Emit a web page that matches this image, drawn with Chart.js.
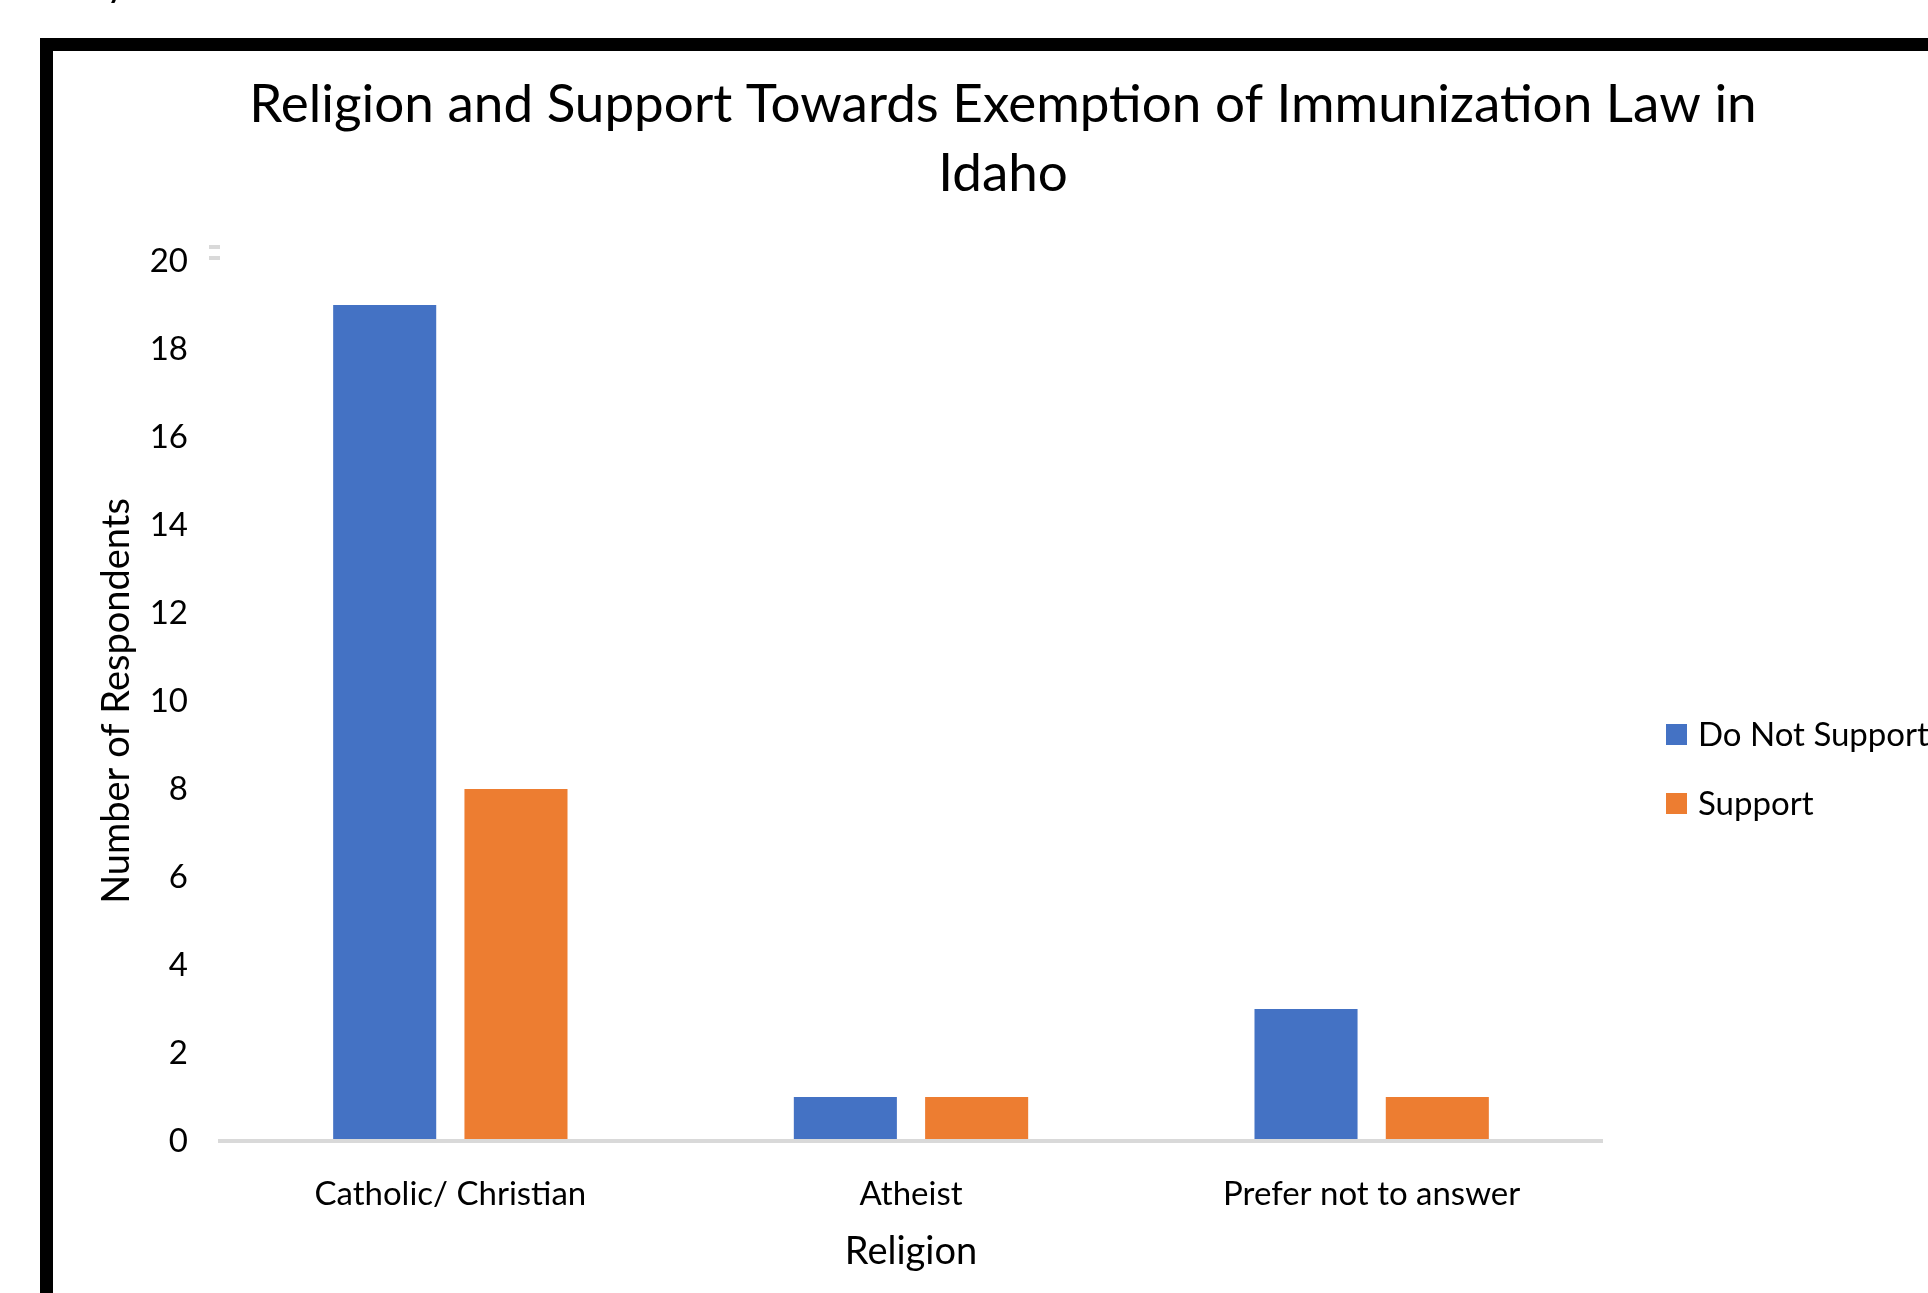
<!DOCTYPE html>
<html>
<head>
<meta charset="utf-8">
<title>Religion and Support Towards Exemption of Immunization Law in Idaho</title>
<script src="https://cdn.jsdelivr.net/npm/chart.js@4/dist/chart.umd.min.js"></script>
<style>
  html, body { margin: 0; padding: 0; background: #fff; overflow: hidden; }
  #wrap { position: relative; width: 1928px; height: 1293px; }
  canvas { display: block; }
</style>
</head>
<body>
<div id="wrap"><canvas id="chart" width="1928" height="1293"></canvas></div>
<script>
// ---- data ----
const titleLines = ['Religion and Support Towards Exemption of Immunization Law in', 'Idaho'];
const religions = ['Catholic/ Christian', 'Atheist', 'Prefer not to answer'];
const seriesNames = ['Do Not Support', 'Support'];
const doNotSupport = [19, 1, 3];
const support = [8, 1, 1];
const yTickValues = [0, 2, 4, 6, 8, 10, 12, 14, 16, 18, 20];
const xAxisTitle = 'Religion';
const yAxisTitle = 'Number of Respondents';

// ---- styling ----
const FONT = 'Lato, "Open Sans", sans-serif';
const BLUE = '#4472C4';
const ORANGE = '#ED7D31';
const AXIS_GREY = '#D9D9D9';

// Page frame, heading, legend and small decorations around the plot
const decorations = {
  id: 'decorations',
  beforeDraw(chart) {
    const ctx = chart.ctx;
    ctx.save();
    ctx.fillStyle = '#fff';
    ctx.fillRect(0, 0, chart.width, chart.height);
    ctx.restore();
  },
  afterDraw(chart) {
    const ctx = chart.ctx;
    const area = chart.chartArea;
    const yScale = chart.scales.y;
    ctx.save();

    // tail of a letter from the line of text above the frame
    ctx.fillStyle = '#000';
    ctx.font = '40px ' + FONT;
    ctx.textAlign = 'left';
    ctx.textBaseline = 'alphabetic';
    ctx.fillText('y', 106, -4);

    // thick black frame (left and top edges)
    ctx.fillRect(40, 38, 13, chart.height - 38);
    ctx.fillRect(40, 38, chart.width - 40, 13);

    // heading
    ctx.fillStyle = '#000';
    ctx.font = '53px ' + FONT;
    ctx.textAlign = 'center';
    ctx.textBaseline = 'alphabetic';
    ctx.fillText(titleLines[0], 1003, 122);
    ctx.fillText(titleLines[1], 1003, 191);

    // small grey handle next to the top of the value axis
    const yTop = yScale.getPixelForValue(yScale.max);
    ctx.fillStyle = AXIS_GREY;
    ctx.fillRect(area.left - 11, yTop - 16, 11, 4);
    ctx.fillRect(area.left - 11, yTop - 5, 11, 4);

    // legend
    ctx.font = '33px ' + FONT;
    ctx.textAlign = 'left';
    ctx.textBaseline = 'middle';
    chart.data.datasets.forEach((ds, i) => {
      const top = 724 + i * 69;
      ctx.fillStyle = ds.backgroundColor;
      ctx.fillRect(area.right + 64, top, 21, 21);
      ctx.fillStyle = '#000';
      ctx.fillText(ds.label, area.right + 96, top + 11);
    });
    ctx.restore();
  }
};

new Chart(document.getElementById('chart'), {
  type: 'bar',
  data: {
    labels: religions,
    datasets: [
      { label: seriesNames[0], data: doNotSupport, backgroundColor: BLUE },
      { label: seriesNames[1], data: support, backgroundColor: ORANGE }
    ]
  },
  options: {
    responsive: false,
    animation: false,
    devicePixelRatio: 1,
    layout: { padding: { left: 60, right: 326, top: 261, bottom: 0 } },
    datasets: {
      bar: { categoryPercentage: 0.57, barPercentage: 0.785, borderWidth: 0 }
    },
    plugins: {
      legend: { display: false },
      title: { display: false },
      tooltip: { enabled: false }
    },
    scales: {
      x: {
        grid: { display: false, drawTicks: false },
        border: { display: true, color: AXIS_GREY, width: 4, z: 1 },
        ticks: {
          color: '#000',
          font: { family: FONT, size: 33 },
          padding: 34,
          maxRotation: 0,
          autoSkip: false
        },
        title: {
          display: true,
          text: xAxisTitle,
          color: '#000',
          font: { family: FONT, size: 38 },
          padding: { top: 0, bottom: 18 }
        },
        afterFit(scale) { scale.height = 152; }
      },
      y: {
        min: yTickValues[0],
        max: yTickValues[yTickValues.length - 1],
        grid: { display: false, drawTicks: false },
        border: { display: false },
        afterBuildTicks(scale) {
          scale.ticks = yTickValues.map(v => ({ value: v }));
        },
        ticks: {
          color: '#000',
          font: { family: FONT, size: 33 },
          padding: 32
        },
        title: {
          display: true,
          text: yAxisTitle,
          color: '#000',
          font: { family: FONT, size: 38 },
          padding: { top: 34, bottom: 0 }
        },
        afterFit(scale) { scale.width = 160; }
      }
    }
  },
  plugins: [decorations]
});
</script>
</body>
</html>
